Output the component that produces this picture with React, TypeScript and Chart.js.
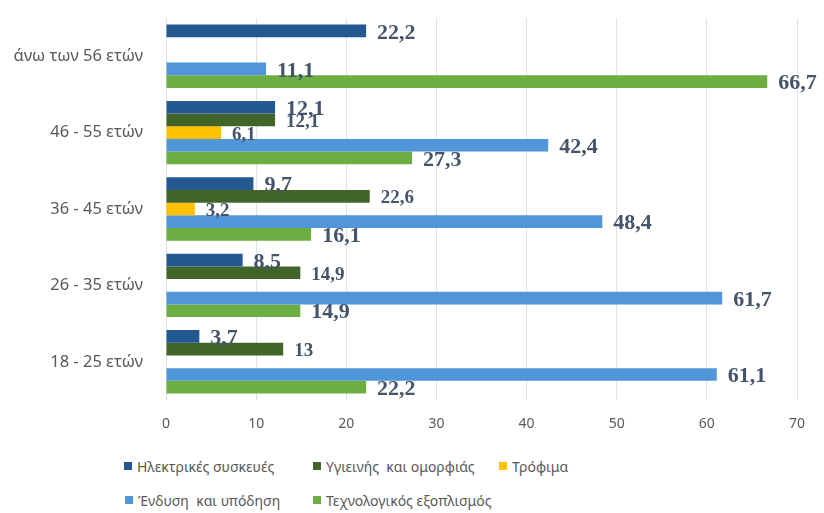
import React, { useEffect, useRef } from "react";
import { Chart, registerables } from "chart.js";

Chart.register(...registerables);

const categories = ["άνω των 56 ετών", "46 - 55 ετών", "36 - 45 ετών", "26 - 35 ετών", "18 - 25 ετών"];
const seriesNames = ["Ηλεκτρικές συσκευές", "Υγιεινής  και ομορφιάς", "Τρόφιμα", "Ένδυση  και υπόδηση", "Τεχνολογικός εξοπλισμός"];
const electrical = [22.2, 12.1, 9.7, 8.5, 3.7];
const hygiene = [0, 12.1, 22.6, 14.9, 13];
const food = [0, 6.1, 3.2, 0, 0];
const clothing = [11.1, 42.4, 48.4, 61.7, 61.1];
const tech = [66.7, 27.3, 16.1, 14.9, 22.2];
const xTicks = [0, 10, 20, 30, 40, 50, 60, 70];

const colors = ["#235990", "#416528", "#FFC000", "#5096D8", "#6CAE42"];
const labelSizes = [22, 19, 19, 22, 22];

const valueLabels = {
  id: "valueLabels",
  afterDatasetsDraw(chart: any) {
    const ctx = chart.ctx;
    ctx.save();
    ctx.fillStyle = "#44546A";
    ctx.textAlign = "left";
    ctx.textBaseline = "middle";
    chart.data.datasets.forEach((ds: any, i: number) => {
      const meta = chart.getDatasetMeta(i);
      ctx.font = `bold ${labelSizes[i]}px "Liberation Serif", "Times New Roman", serif`;
      meta.data.forEach((bar: any, j: number) => {
        const v = ds.data[j];
        if (!v) return;
        ctx.fillText(String(v).replace(".", ","), bar.x + 11, bar.y + 2);
      });
    });
    ctx.restore();
  },
};

export default function App() {
  const ref = useRef<HTMLCanvasElement>(null);
  useEffect(() => {
    const data = [electrical, hygiene, food, clothing, tech];
    const chart = new Chart(ref.current!, {
      type: "bar",
      data: {
        labels: categories,
        datasets: seriesNames.map((n, i) => ({
          label: n,
          data: data[i],
          backgroundColor: colors[i],
          borderWidth: 0,
          categoryPercentage: 0.83,
          barPercentage: 1.0,
        })),
      },
      options: {
        indexAxis: "y",
        animation: false,
        responsive: false,
        maintainAspectRatio: false,
        layout: { padding: { top: 18, right: 27, left: 0, bottom: 0 } },
        plugins: { legend: { display: false }, tooltip: { enabled: false } },
        scales: {
          x: {
            min: 0,
            max: 70,
            afterBuildTicks: (s: any) => {
              s.ticks = xTicks.map((v) => ({ value: v }));
            },
            grid: { color: "#DCE2EA", drawTicks: false, lineWidth: 1 },
            border: { display: false },
            ticks: {
              padding: 16,
              color: "#595959",
              font: { family: '"Noto Sans", sans-serif', size: 14 },
            },
            afterFit: (s: any) => {
              s.height = 40;
              s.paddingLeft = 0;
              s.paddingRight = 0;
            },
          },
          y: {
            grid: { display: false, drawTicks: false },
            border: { display: false },
            ticks: {
              padding: 23,
              color: "#595959",
              font: { family: '"Noto Sans", sans-serif', size: 16.5 },
            },
            afterFit: (s: any) => {
              s.width = 166;
              s.paddingTop = 0;
              s.paddingBottom = 0;
            },
          },
        },
      },
      plugins: [valueLabels],
    });
    return () => chart.destroy();
  }, []);

  const legendFont: React.CSSProperties = {
    fontFamily: '"Noto Sans", sans-serif',
    fontSize: 14,
    color: "#595959",
  };
  const items = [
    { i: 0, x: 124, y: 466 },
    { i: 1, x: 313, y: 466 },
    { i: 2, x: 499, y: 466 },
    { i: 3, x: 125, y: 500 },
    { i: 4, x: 313, y: 500 },
  ];

  return (
    <div style={{ position: "fixed", left: 0, top: 0, width: 824, height: 513, background: "#fff", overflow: "hidden" }}>
      <canvas ref={ref} width={824} height={440} style={{ position: "absolute", left: 0, top: 0 }} />
      {items.map((it) => (
        <div
          key={it.i}
          style={{
            position: "absolute",
            left: it.x,
            top: it.y - 10,
            height: 20,
            display: "flex",
            alignItems: "center",
            whiteSpace: "pre",
            ...legendFont,
          }}
        >
          <span style={{ display: "inline-block", width: 8, height: 8, background: colors[it.i], marginRight: 5 }} />
          {seriesNames[it.i]}
        </div>
      ))}
    </div>
  );
}
